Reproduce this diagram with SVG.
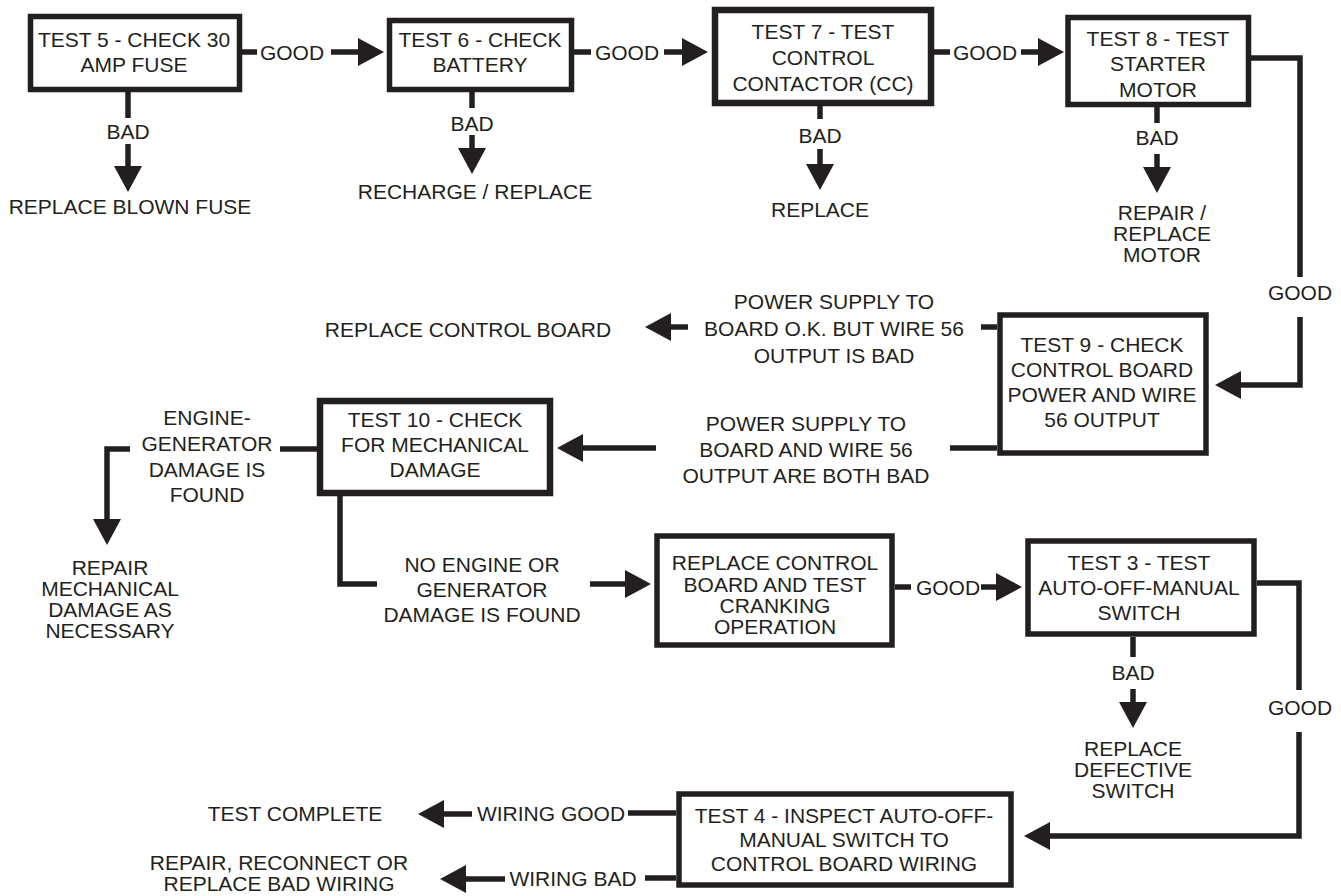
<svg xmlns="http://www.w3.org/2000/svg" width="1341" height="896" viewBox="0 0 1341 896">
<style>
  .bg{fill:#ffffff}
  .box{fill:#ffffff;stroke:#231f20;stroke-width:5.5}
  .box.thick{stroke-width:6.5}
  .ln{fill:none;stroke:#231f20;stroke-width:5.5;stroke-linejoin:miter}
  text{font-family:"Liberation Sans",Arial,Helvetica,sans-serif;font-size:21px;fill:#231f20;text-anchor:middle}
</style>
<defs>
  <marker id="ah" markerUnits="userSpaceOnUse" viewBox="0 -15 27 30" refX="0" refY="0" markerWidth="27" markerHeight="30" orient="auto">
    <path d="M0,-14 L26,0 L0,14 Z" fill="#231f20"/>
  </marker>
</defs>
<rect class="bg" x="0" y="0" width="1341" height="896"/>

<g id="connectors">
  <!-- row 1 GOOD -->
  <path class="ln" d="M242,52 H257"/>
  <path class="ln" d="M331,52 H358" marker-end="url(#ah)"/>
  <path class="ln" d="M574,52 H591"/>
  <path class="ln" d="M664,52 H682" marker-end="url(#ah)"/>
  <path class="ln" d="M934,52 H950"/>
  <path class="ln" d="M1021,52 H1038" marker-end="url(#ah)"/>
  <!-- row 1 BAD -->
  <path class="ln" d="M128,92 V118"/>
  <path class="ln" d="M128,144 V166" marker-end="url(#ah)"/>
  <path class="ln" d="M472,92 V108"/>
  <path class="ln" d="M472,135 V148" marker-end="url(#ah)"/>
  <path class="ln" d="M820,106 V119"/>
  <path class="ln" d="M820,149 V164" marker-end="url(#ah)"/>
  <path class="ln" d="M1157,107 V123"/>
  <path class="ln" d="M1157,154 V167" marker-end="url(#ah)"/>
  <!-- test 8 good to test 9 -->
  <path class="ln" d="M1251,58 H1300 V277"/>
  <path class="ln" d="M1300,317 V385 H1241" marker-end="url(#ah)"/>
  <!-- test 9 outputs -->
  <path class="ln" d="M997,327 H981"/>
  <path class="ln" d="M688,327 H671" marker-end="url(#ah)"/>
  <path class="ln" d="M997,448 H950"/>
  <path class="ln" d="M656,448 H583" marker-end="url(#ah)"/>
  <!-- test 10 outputs -->
  <path class="ln" d="M317,449 H280"/>
  <path class="ln" d="M130,449 H107 V519" marker-end="url(#ah)"/>
  <path class="ln" d="M340,496 V584 H377"/>
  <path class="ln" d="M590,584 H625" marker-end="url(#ah)"/>
  <!-- replace board good -->
  <path class="ln" d="M895,587 H911"/>
  <path class="ln" d="M981,587 H996" marker-end="url(#ah)"/>
  <!-- test 3 outputs -->
  <path class="ln" d="M1257,583 H1299 V690"/>
  <path class="ln" d="M1299,732 V836 H1050" marker-end="url(#ah)"/>
  <path class="ln" d="M1133,637 V657"/>
  <path class="ln" d="M1133,689 V702" marker-end="url(#ah)"/>
  <!-- test 4 outputs -->
  <path class="ln" d="M676,813 H628"/>
  <path class="ln" d="M472,814 H444" marker-end="url(#ah)"/>
  <path class="ln" d="M676,878 H645"/>
  <path class="ln" d="M505,879 H466" marker-end="url(#ah)"/>

  <!-- connector labels -->
  <text x="292" y="60">GOOD</text>
  <text x="627" y="60">GOOD</text>
  <text x="985" y="60">GOOD</text>
  <text x="128" y="139">BAD</text>
  <text x="472" y="131">BAD</text>
  <text x="820" y="143">BAD</text>
  <text x="1157" y="145">BAD</text>
  <text x="1300" y="300">GOOD</text>
  <text x="834" y="309">POWER SUPPLY TO</text>
  <text x="834" y="336">BOARD O.K. BUT WIRE 56</text>
  <text x="834" y="363">OUTPUT IS BAD</text>
  <text x="806" y="431">POWER SUPPLY TO</text>
  <text x="806" y="457">BOARD AND WIRE 56</text>
  <text x="806" y="483">OUTPUT ARE BOTH BAD</text>
  <text x="207" y="425">ENGINE-</text>
  <text x="207" y="451">GENERATOR</text>
  <text x="207" y="477">DAMAGE IS</text>
  <text x="207" y="502">FOUND</text>
  <text x="482" y="572">NO ENGINE OR</text>
  <text x="482" y="597">GENERATOR</text>
  <text x="482" y="622">DAMAGE IS FOUND</text>
  <text x="948" y="595">GOOD</text>
  <text x="1133" y="680">BAD</text>
  <text x="1300" y="715">GOOD</text>
  <text x="551" y="821">WIRING GOOD</text>
  <text x="573" y="886">WIRING BAD</text>
</g>

<g id="test5">
  <rect class="box" x="30.5" y="16.5" width="209" height="73"/>
  <text x="134" y="47">TEST 5 - CHECK 30</text>
  <text x="134" y="72">AMP FUSE</text>
</g>
<g id="test6">
  <rect class="box" x="389.5" y="20.5" width="182" height="69"/>
  <text x="480" y="47">TEST 6 - CHECK</text>
  <text x="480" y="72">BATTERY</text>
</g>
<g id="test7">
  <rect class="box thick" x="715" y="10" width="216" height="93"/>
  <text x="823" y="39">TEST 7 - TEST</text>
  <text x="823" y="65">CONTROL</text>
  <text x="823" y="91">CONTACTOR (CC)</text>
</g>
<g id="test8">
  <rect class="box" x="1068" y="17.5" width="180.5" height="87"/>
  <text x="1158" y="46">TEST 8 - TEST</text>
  <text x="1158" y="71">STARTER</text>
  <text x="1158" y="97">MOTOR</text>
</g>
<g id="replace-fuse">
  <text x="130" y="214">REPLACE BLOWN FUSE</text>
</g>
<g id="recharge-battery">
  <text x="475" y="199">RECHARGE / REPLACE</text>
</g>
<g id="replace-contactor">
  <text x="820" y="217">REPLACE</text>
</g>
<g id="repair-motor">
  <text x="1162" y="220">REPAIR /</text>
  <text x="1162" y="241">REPLACE</text>
  <text x="1162" y="262">MOTOR</text>
</g>
<g id="test9">
  <rect class="box" x="1000" y="315" width="206" height="138"/>
  <text x="1102" y="352">TEST 9 - CHECK</text>
  <text x="1102" y="377">CONTROL BOARD</text>
  <text x="1102" y="402">POWER AND WIRE</text>
  <text x="1102" y="427">56 OUTPUT</text>
</g>
<g id="replace-board">
  <text x="468" y="337">REPLACE CONTROL BOARD</text>
</g>
<g id="test10">
  <rect class="box thick" x="320" y="401" width="230" height="92"/>
  <text x="435" y="427">TEST 10 - CHECK</text>
  <text x="435" y="452">FOR MECHANICAL</text>
  <text x="435" y="477">DAMAGE</text>
</g>
<g id="repair-mechanical">
  <text x="110" y="575">REPAIR</text>
  <text x="110" y="596">MECHANICAL</text>
  <text x="110" y="617">DAMAGE AS</text>
  <text x="110" y="638">NECESSARY</text>
</g>
<g id="replace-board-test">
  <rect class="box" x="657" y="536" width="235" height="109"/>
  <text x="775" y="570">REPLACE CONTROL</text>
  <text x="775" y="592">BOARD AND TEST</text>
  <text x="775" y="613">CRANKING</text>
  <text x="775" y="634">OPERATION</text>
</g>
<g id="test3">
  <rect class="box" x="1028" y="541" width="226" height="93"/>
  <text x="1139" y="570">TEST 3 - TEST</text>
  <text x="1139" y="595">AUTO-OFF-MANUAL</text>
  <text x="1139" y="620">SWITCH</text>
</g>
<g id="replace-switch">
  <text x="1133" y="756">REPLACE</text>
  <text x="1133" y="777">DEFECTIVE</text>
  <text x="1133" y="798">SWITCH</text>
</g>
<g id="test4">
  <rect class="box" x="679" y="794" width="332" height="91"/>
  <text x="844" y="823">TEST 4 - INSPECT AUTO-OFF-</text>
  <text x="844" y="847">MANUAL SWITCH TO</text>
  <text x="844" y="871">CONTROL BOARD WIRING</text>
</g>
<g id="test-complete">
  <text x="295" y="821">TEST COMPLETE</text>
</g>
<g id="repair-wiring">
  <text x="279" y="870">REPAIR, RECONNECT OR</text>
  <text x="279" y="891">REPLACE BAD WIRING</text>
</g>
</svg>
